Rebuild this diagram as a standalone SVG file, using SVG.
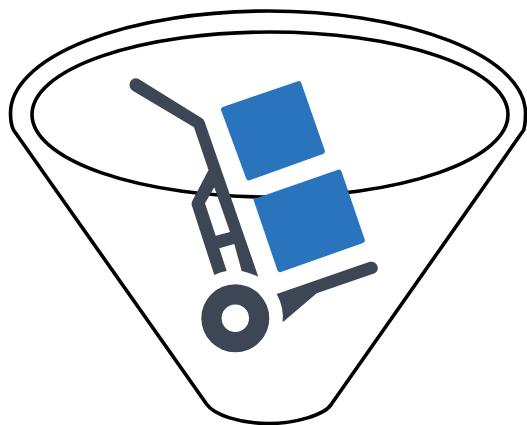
<svg xmlns="http://www.w3.org/2000/svg" width="527" height="425" viewBox="0 0 527 425">
<style>
.line{fill:none;stroke:#000;stroke-width:3.6;stroke-linejoin:round}
.dark{fill:#3c4655}
.blue{fill:#2a73bd}
</style>
<rect width="527" height="425" fill="#fff"/>
<g id="funnel">
<path class="line" d="M13.500 130Q10.500 124 10.500 113A257.500 102 0 0 1 525.500 113Q525.500 124 523.700 130L331.500 404C325 415 295 423.500 268.500 423.500C240 423.500 214 415 206.500 404Z"/>
<ellipse class="line" cx="270" cy="114.500" rx="238" ry="82.500"/>
</g>
<g id="hand-truck">
<path class="dark" fill-rule="evenodd" d="M139.500 79.500L202.700 118.700Q204 119.700 205 122.700L258.300 276.700Q250 272.700 241.700 271L234.300 244L219.300 248.300L226.700 271Q220 272 214.300 275L192 206Q191 203 192.500 200.500L208.500 170L194 127.300L132.700 90.700C125.500 85.500 132 74.500 139.500 79.500ZM214.300 187.300L230 232L215.700 235.700L205 203.300Z"/>
<path class="dark" fill-rule="evenodd" d="M269.300 318.300A34 34 0 1 1 201.300 318.300A34 34 0 1 1 269.300 318.300ZM249 318.300A13.700 13.700 0 1 0 221.600 318.300A13.700 13.700 0 1 0 249 318.300Z"/>
<path class="dark" d="M276.700 294L369 262C377 259.500 381.500 270.500 374 273.500L316.700 293.300L282.700 322.300Q284 307 276.700 294Z"/>
</g>
<g id="box-top">
<path class="blue" d="M223.500 106.700L298 81.300Q300.500 80.500 301.300 83L324.800 150.500Q325.500 153 323 154L249.500 180.300Q247 181 246.200 178.500L221 110Q220.500 107.700 223.500 106.700Z"/>
</g>
<g id="box-bottom">
<path class="blue" d="M253.300 199.300L338 169.800Q340.500 169 341.500 171.500L364.700 239.500Q365.500 242 363 243L281 272Q278.500 272.800 277.500 270.500Z"/>
</g>
</svg>
